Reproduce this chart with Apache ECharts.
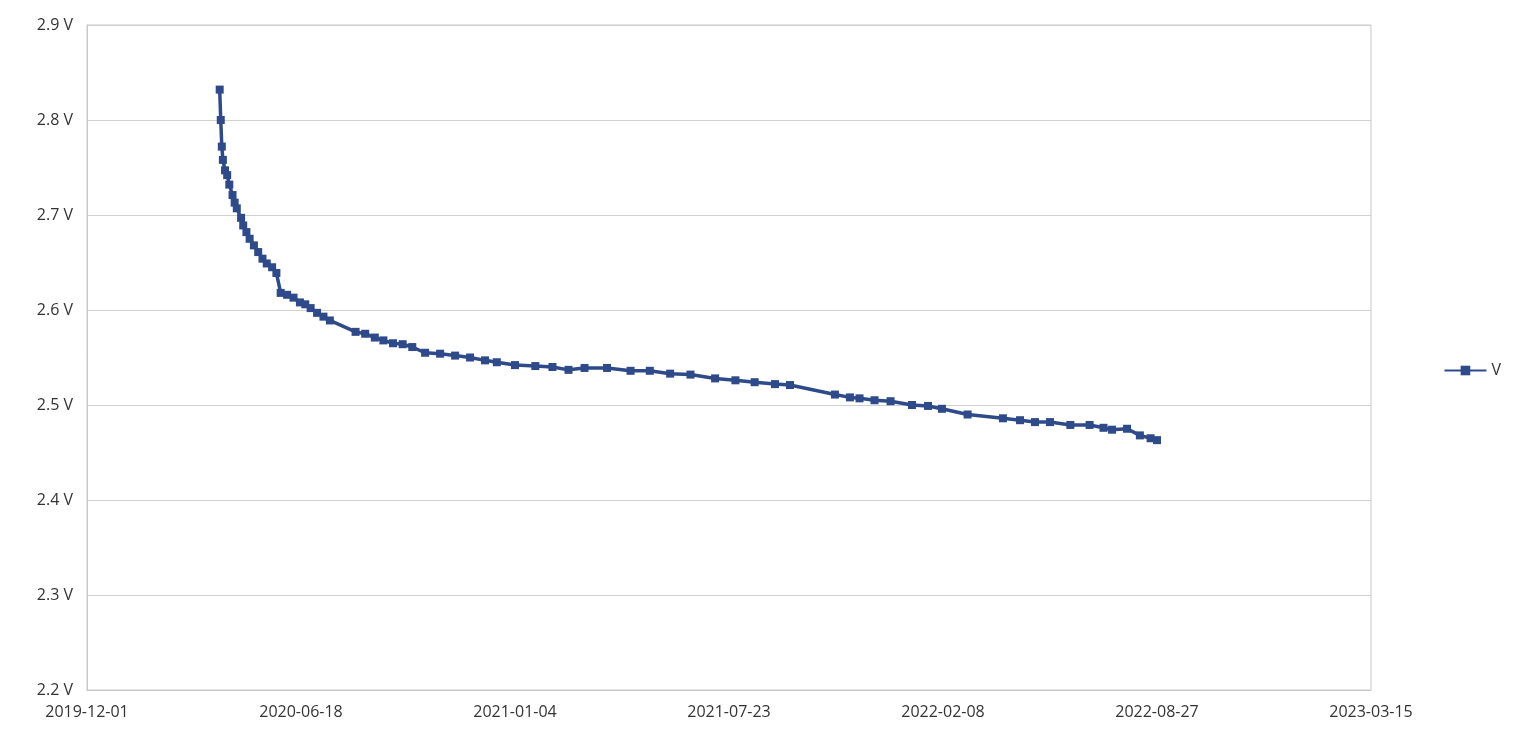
<!DOCTYPE html>
<html><head><meta charset="utf-8">
<script src="https://cdn.jsdelivr.net/npm/echarts@6/dist/echarts.min.js"></script>
<style>html,body{margin:0;padding:0;background:#fff}#c{width:1536px;height:741px}</style>
</head><body><div id="c"></div>
<script>
const baseDate = '2019-12-01';
const dayOffsets = [124,125,126,127,129,131,133,136,138,140,144,146,149,152,156,160,164,168,173,177,181,187,193,199,204,209,215,221,227,251,260,269,277,286,295,304,316,330,344,358,372,383,400,419,435,450,465,486,508,526,545,564,587,606,624,643,657,699,713,722,736,751,771,786,799,823,856,872,886,900,919,937,950,958,972,984,994,1000];
const volts = [2.832,2.800,2.772,2.758,2.747,2.742,2.732,2.721,2.713,2.707,2.697,2.689,2.682,2.675,2.668,2.661,2.654,2.649,2.645,2.639,2.618,2.616,2.613,2.608,2.606,2.602,2.597,2.593,2.589,2.577,2.575,2.571,2.568,2.565,2.564,2.561,2.555,2.554,2.552,2.550,2.547,2.545,2.542,2.541,2.540,2.537,2.539,2.539,2.536,2.536,2.533,2.532,2.528,2.526,2.524,2.522,2.521,2.511,2.508,2.507,2.505,2.504,2.500,2.499,2.496,2.490,2.486,2.484,2.482,2.482,2.479,2.479,2.476,2.474,2.475,2.468,2.465,2.463];
const DAY = 86400000;
const base = Date.parse(baseDate + 'T00:00:00Z');
const data = dayOffsets.map((d,i)=>[base + d*DAY, volts[i]]);
const pad = n => String(n).padStart(2,'0');
const fmt = v => { const d = new Date(v); return d.getUTCFullYear()+'-'+pad(d.getUTCMonth()+1)+'-'+pad(d.getUTCDate()); };
const chart = echarts.init(document.getElementById('c'));
chart.setOption({
  animation: false,
  textStyle: {fontFamily: 'Open Sans, Noto Sans, sans-serif'},
  grid: {left: 87, right: 165, top: 25, bottom: 51, show: true, borderColor: '#c8c8c8', borderWidth: 1},
  legend: {right: 30, top: 'middle', orient: 'vertical', itemWidth: 42, itemHeight: 12, itemGap: 8,
    textStyle: {fontSize: 16, color: '#333'}, data: ['V']},
  xAxis: {type: 'value', min: base, max: base + 1200*DAY, interval: 200*DAY,
    axisLine: {lineStyle: {color: '#c8c8c8'}}, axisTick: {show: false}, splitLine: {show: false},
    axisLabel: {formatter: v => fmt(v), fontSize: 16, color: '#333', margin: 14}},
  yAxis: {type: 'value', min: 2.2, max: 2.9, interval: 0.1,
    axisLine: {show: true, lineStyle: {color: '#c8c8c8'}}, axisTick: {show: false},
    splitLine: {lineStyle: {color: '#d0d0d0'}},
    axisLabel: {formatter: v => v.toFixed(1) + ' V', fontSize: 16, color: '#333', margin: 14}},
  series: [{name: 'V', type: 'line', data: data, symbol: 'rect', symbolSize: 8, showAllSymbol: true,
    lineStyle: {width: 3.5, color: '#2E4A8B'}, itemStyle: {color: '#2E4A8B'}}]
});
</script></body></html>
